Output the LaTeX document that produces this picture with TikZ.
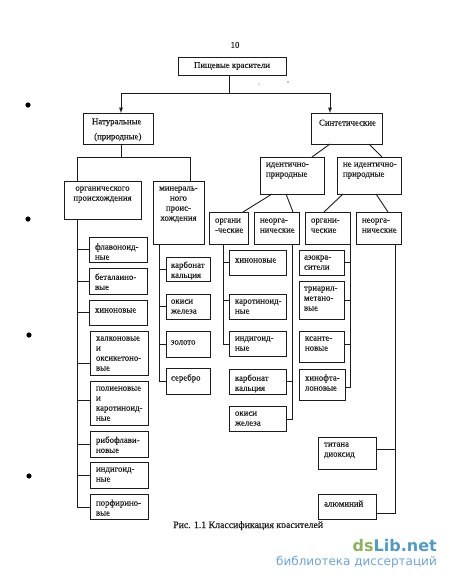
\documentclass[tikz,border=0pt]{standalone}
\usepackage{fontspec}
\setmainfont{Liberation Serif}[FakeBold=0.35]
\newfontfamily\wmfont{DejaVu Sans}
\usepackage{tikz}
\usetikzlibrary{arrows}
\definecolor{wmgreen}{HTML}{8FB05C}
\definecolor{wmblue}{HTML}{4F9CCB}
\definecolor{wmlight}{HTML}{6BA3D6}
\definecolor{ink}{HTML}{1C1C1C}
\tikzstyle{every picture}+=[x=1pt,y=-1pt]
\tikzstyle{dbox}=[draw=ink,line width=0.9pt,anchor=north west,inner sep=0pt,outer sep=0pt,font=\fontsize{8.8}{10}\selectfont,text=ink]
\tikzstyle{ltext}=[anchor=north west,align=left,inner sep=0pt,outer sep=0pt,xshift=6pt,yshift=-5.5pt,font=\fontsize{8.8}{10}\selectfont,text=ink,execute at begin node=\strut]
\tikzstyle{ctext}=[anchor=north,align=center,inner sep=0pt,outer sep=0pt,yshift=-5.5pt,font=\fontsize{8.8}{10}\selectfont,text=ink,execute at begin node=\strut]
\tikzstyle{link}=[draw=ink,line width=0.9pt]
\tikzstyle{speck}=[fill=black]
\begin{document}
\begin{tikzpicture}
\useasboundingbox (0,0) rectangle (450,582);
\node[font=\fontsize{8.8}{10}\selectfont,text=ink] (pagenum) at (235,45) {10};
% top levels
\node[dbox,minimum width=108pt,minimum height=18pt] (food) at (178,57) {Пищевые красители};
\node[dbox,minimum width=70pt,minimum height=31pt,label={[ltext,xshift=3pt]north west:{Натуральные\\[5pt]\ (природные)}}] (natural) at (83,113) {};
\node[dbox,minimum width=71pt,minimum height=31pt,label={[ltext,xshift=2pt]north west:{Синтетические}}] (synth) at (311,113) {};
\coordinate (split) at (229,93);
\draw[link] (food.south -| split) -- (split);
\draw[link,-latex] (split) -| ([xshift=3pt]natural.north);
\draw[link,-latex] (split) -| ([xshift=-16.5pt]synth.north);
% natural
\node[dbox,minimum width=77pt,minimum height=38pt,label={[ctext]north:{органического\\происхождения}}] (organic) at (64,181) {};
\node[dbox,minimum width=51pt,minimum height=63pt,label={[ctext]north:{минераль-\\ного\\проис-\\хождения}}] (mineral) at (153,181) {};
\coordinate (natsplit) at (121,157);
\draw[link] ([xshift=3pt]natural.south) -- (natsplit);
\draw[link] (natsplit) -| ([xshift=-25.5pt]organic.north);
\draw[link] (natsplit) -| ([xshift=11.5pt]mineral.north);
% organic list
\node[dbox,minimum width=58pt,minimum height=25pt,label={[ltext,yshift=-1pt]north west:{флавоноид-\\ные}}] (flavon) at (89,237) {};
\node[dbox,minimum width=58pt,minimum height=26pt,label={[ltext]north west:{беталаино-\\вые}}] (betal) at (89,268) {};
\node[dbox,minimum width=58pt,minimum height=25pt,label={[ltext]north west:{хиноновые}}] (quinon) at (89,300) {};
\node[dbox,minimum width=58pt,minimum height=44pt,label={[ltext]north west:{халконовые\\и\\оксикетоно-\\вые}}] (chalc) at (90,331) {};
\node[dbox,minimum width=58pt,minimum height=44pt,label={[ltext]north west:{полиеновые\\и\\каротиноид-\\ные}}] (polyen) at (90,381) {};
\node[dbox,minimum width=58pt,minimum height=26pt,label={[ltext]north west:{рибофлави-\\новые}}] (ribo) at (90,431) {};
\node[dbox,minimum width=58pt,minimum height=26pt,label={[ltext]north west:{индигоид-\\ные}}] (indigo) at (90,462) {};
\node[dbox,minimum width=58pt,minimum height=25pt,label={[ltext]north west:{порфирино-\\вые}}] (porph) at (90,494) {};
\coordinate (orgend) at (77,507);
\draw[link] (organic.south -| orgend) -- (orgend) -- (porph.west |- orgend);
\draw[link] (flavon.west) -- (flavon.west -| orgend);
\draw[link] (betal.west) -- (betal.west -| orgend);
\draw[link] (quinon.west) -- (quinon.west -| orgend);
\draw[link] ([yshift=-10pt]chalc.west) -- ([yshift=-10pt]chalc.west -| orgend);
\draw[link] ([yshift=3pt]polyen.west) -- ([yshift=3pt]polyen.west -| orgend);
\draw[link] (ribo.west) -- (ribo.west -| orgend);
\draw[link] (indigo.west) -- (indigo.west -| orgend);
% mineral list
\node[dbox,minimum width=44pt,minimum height=24pt,label={[ltext,xshift=-1pt,yshift=1pt]north west:{карбонат\\кальция}}] (carb) at (166,257) {};
\node[dbox,minimum width=44pt,minimum height=25pt,label={[ltext,xshift=-1pt]north west:{окиси\\железа}}] (oxide) at (166,294) {};
\node[dbox,minimum width=44pt,minimum height=26pt,label={[ltext,xshift=-1pt,yshift=-1pt]north west:{золото}}] (gold) at (166,331) {};
\node[dbox,minimum width=44pt,minimum height=26pt,label={[ltext,xshift=-1pt]north west:{серебро}}] (silver) at (166,368) {};
\coordinate (minend) at (159,381);
\draw[link] (mineral.south -| minend) -- (minend) -- (silver.west);
\draw[link] (carb.west) -- (carb.west -| minend);
\draw[link] (oxide.west) -- (oxide.west -| minend);
\draw[link] (gold.west) -- (gold.west -| minend);
% synthetic
\node[dbox,minimum width=64pt,minimum height=37pt,label={[ltext]north west:{идентично-\\природные}}] (ident) at (260,157) {};
\node[dbox,minimum width=64pt,minimum height=37pt,label={[ltext]north west:{не идентично-\\природные}}] (nonident) at (337,157) {};
\draw[link] ([xshift=-16.5pt]synth.south) -- ([xshift=20pt]ident.north);
\draw[link] ([xshift=22.5pt]synth.south) -- ([xshift=13pt]nonident.north);
\node[dbox,minimum width=39pt,minimum height=32pt,label={[ltext,yshift=-1pt]north west:{органи\\-ческие}}] (orga) at (209,212) {};
\node[dbox,minimum width=45pt,minimum height=32pt,label={[ltext,yshift=-1pt]north west:{неорга-\\нические}}] (inorga) at (254,212) {};
\node[dbox,minimum width=45pt,minimum height=32pt,label={[ltext,yshift=-1pt]north west:{органи-\\ческие}}] (orgb) at (305,212) {};
\node[dbox,minimum width=45pt,minimum height=32pt,label={[ltext,yshift=-1pt]north west:{неорга-\\нические}}] (inorgb) at (356,212) {};
\draw[link] ([xshift=-20pt]ident.south) -- ([xshift=14.5pt]orga.north);
\draw[link] ([xshift=-6pt]ident.south) -- ([xshift=16.5pt]inorga.north);
\draw[link] ([xshift=-26pt]nonident.south) -- ([xshift=-3.5pt]orgb.north);
\draw[link] ([xshift=7pt]nonident.south) -- ([xshift=9.5pt]inorgb.north);
% synthetic lists
\node[dbox,minimum width=57pt,minimum height=25pt,label={[ltext]north west:{хиноновые}}] (quinonb) at (229,250) {};
\node[dbox,minimum width=57pt,minimum height=25pt,label={[ltext]north west:{каротиноид-\\ные}}] (carot) at (229,294) {};
\node[dbox,minimum width=57pt,minimum height=25pt,label={[ltext]north west:{индигоид-\\ные}}] (indigob) at (229,331) {};
\node[dbox,minimum width=57pt,minimum height=25pt,label={[ltext]north west:{карбонат\\кальция}}] (carbb) at (229,369) {};
\node[dbox,minimum width=57pt,minimum height=25pt,label={[ltext]north west:{окиси\\железа}}] (oxideb) at (229,406) {};
\coordinate (orgaend) at (223,344);
\draw[link] (orga.south -| orgaend) -- (orgaend) -- (indigob.west |- orgaend);
\draw[link] (quinonb.west) -- (quinonb.west -| orgaend);
\draw[link] ([yshift=6.5pt]carot.west) -- ([yshift=6.5pt]carot.west -| orgaend);
\coordinate (inorgaend) at (292,419);
\draw[link] (inorga.south -| inorgaend) -- (inorgaend) -- (oxideb.east |- inorgaend);
\draw[link] (carbb.east) -- (carbb.east -| inorgaend);
\node[dbox,minimum width=45pt,minimum height=25pt,label={[ltext,xshift=-1pt]north west:{азокра-\\сители}}] (azo) at (299,250) {};
\node[dbox,minimum width=45pt,minimum height=38pt,label={[ltext,xshift=-1pt]north west:{триарил-\\метано-\\вые}}] (triaryl) at (299,281) {};
\node[dbox,minimum width=45pt,minimum height=31pt,label={[ltext]north west:{ксанте-\\новые}}] (xanth) at (299,331) {};
\node[dbox,minimum width=46pt,minimum height=31pt,label={[ltext]north west:{хинофта-\\лоновые}}] (quinoph) at (299,369) {};
\coordinate (orgbend) at (350,387);
\draw[link] (orgb.south -| orgbend) -- (orgbend) -- (quinoph.east |- orgbend);
\draw[link] (azo.east) -- (azo.east -| orgbend);
\draw[link] (triaryl.east) -- (triaryl.east -| orgbend);
\draw[link] ([yshift=2.5pt]xanth.east) -- ([yshift=2.5pt]xanth.east -| orgbend);
\node[dbox,minimum width=58pt,minimum height=32pt,label={[ltext]north west:{титана\\диоксид}}] (titan) at (318,437) {};
\node[dbox,minimum width=58pt,minimum height=25pt,label={[ltext]north west:{алюминий}}] (alum) at (318,494) {};
\coordinate (inorgbend) at (395,513);
\draw[link] (inorgb.south -| inorgbend) -- (inorgbend) -- (alum.east |- inorgbend);
\draw[link] ([yshift=4pt]titan.east) -- ([yshift=4pt]titan.east -| inorgbend);
% caption and watermark
\node[font=\fontsize{9.8}{10}\selectfont,text=ink,inner sep=0pt,anchor=base west] (caption) at (173,528) {Рис. 1.1 Классификация красителей};
\fill[white] (278,527.5) rectangle (330,532);
\node[font=\wmfont\bfseries\fontsize{16}{16}\selectfont,inner sep=0pt,anchor=base east] (wmlogo) at (437,551) {\textcolor{wmgreen}{ds}\textcolor{wmblue}{Lib.net}};
\node[font=\wmfont\fontsize{12}{13}\selectfont,text=wmlight,inner sep=0pt,anchor=base east] (wmtext) at (437,565) {библиотека диссертаций};
% scan specks
\fill[speck] (28,105) circle (2.6pt);
\fill[speck] (28,219) circle (2.6pt);
\fill[speck] (29,335) circle (2.6pt);
\fill[speck] (29,476) circle (2.6pt);
\fill[speck] (288,82) circle (0.6pt);
\fill[speck] (259,84) circle (0.5pt);
\end{tikzpicture}
\end{document}
